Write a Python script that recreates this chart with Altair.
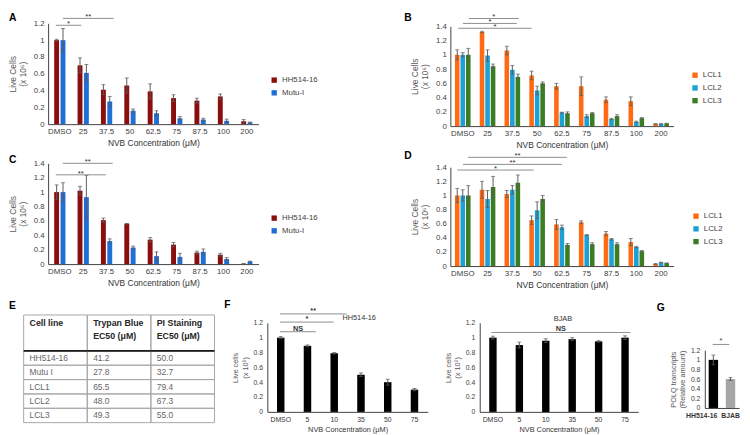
import altair as alt
import pandas as pd
import math

FONT = "Liberation Sans"
ERR = "#5a5a5a"
SIG = "#8c8c8c"
AX = "#404040"

# ---------------- data ----------------
CONC = ["DMSO", "25", "37.5", "50", "62.5", "75", "87.5", "100", "200"]

A_NAMES = ["HH514-16", "Mutu-I"]
A_HH = [1.00, 0.70, 0.41, 0.46, 0.39, 0.31, 0.28, 0.33, 0.035]
A_HH_ERR = [0.01, 0.09, 0.06, 0.09, 0.09, 0.04, 0.03, 0.03, 0.02]
A_MUTU = [1.00, 0.61, 0.27, 0.16, 0.13, 0.07, 0.055, 0.04, 0.02]
A_MUTU_ERR = [0.14, 0.10, 0.06, 0.02, 0.03, 0.02, 0.015, 0.02, 0.005]

B_NAMES = ["LCL1", "LCL2", "LCL3"]
B_LCL1 = [1.00, 1.32, 1.06, 0.71, 0.56, 0.56, 0.37, 0.35, 0.03]
B_LCL1_ERR = [0.07, 0.01, 0.06, 0.06, 0.04, 0.13, 0.04, 0.06, 0.005]
B_LCL2 = [1.00, 0.99, 0.79, 0.50, 0.19, 0.14, 0.10, 0.06, 0.03]
B_LCL2_ERR = [0.03, 0.08, 0.06, 0.06, 0.005, 0.02, 0.01, 0.01, 0.005]
B_LCL3 = [1.00, 0.84, 0.69, 0.60, 0.18, 0.18, 0.14, 0.11, 0.035]
B_LCL3_ERR = [0.09, 0.03, 0.04, 0.02, 0.02, 0.01, 0.02, 0.01, 0.005]

C_HH = [1.00, 1.02, 0.61, 0.56, 0.34, 0.27, 0.16, 0.13, 0.005]
C_HH_ERR = [0.10, 0.06, 0.03, 0.005, 0.03, 0.03, 0.02, 0.02, 0.0]
C_MUTU = [1.00, 0.93, 0.32, 0.23, 0.11, 0.10, 0.17, 0.07, 0.035]
C_MUTU_ERR = [0.13, 0.30, 0.03, 0.02, 0.06, 0.05, 0.04, 0.02, 0.005]

D_LCL1 = [1.00, 1.08, 1.02, 0.65, 0.59, 0.62, 0.46, 0.34, 0.03]
D_LCL1_ERR = [0.10, 0.12, 0.05, 0.06, 0.07, 0.02, 0.03, 0.05, 0.005]
D_LCL2 = [1.00, 0.95, 1.08, 0.79, 0.55, 0.44, 0.38, 0.27, 0.05]
D_LCL2_ERR = [0.08, 0.12, 0.06, 0.12, 0.03, 0.005, 0.01, 0.01, 0.005]
D_LCL3 = [1.00, 1.12, 1.18, 0.95, 0.30, 0.31, 0.31, 0.21, 0.04]
D_LCL3_ERR = [0.14, 0.15, 0.11, 0.05, 0.02, 0.02, 0.02, 0.01, 0.005]

A_COLORS = ["#8A0E0E", "#1F6FD6"]
B_COLORS = ["#FF6A13", "#1CA0D8", "#3A7D22"]

# significance brackets: (start, end) in category units, height, label
A_SIG = [(0.33, 1.42, 1.177, "*"), (0.63, 2.80, 1.259, "**")]
B_SIG = [(0.32, 3.28, 1.372, "*"), (0.51, 2.68, 1.44, "*"), (0.75, 2.76, 1.509, "*")]
C_SIG = [(0.33, 2.47, 1.24, "**"), (0.63, 2.76, 1.40, "**")]
D_SIG = [(0.28, 3.36, 1.36, "*"), (0.51, 4.50, 1.44, "**"), (0.71, 4.70, 1.54, "**")]

TABLE_HEAD = ["Cell line", "Trypan Blue\nEC50 (μM)", "PI Staining\nEC50 (μM)"]
CELL_LINES = ["HH514-16", "Mutu I", "LCL1", "LCL2", "LCL3"]
TRYPAN = ["41.2", "27.8", "65.5", "48.0", "49.3"]
PI_STAIN = ["50.0", "32.7", "79.4", "67.3", "55.0"]

F_CATS = ["DMSO", "5", "10", "35", "50", "75"]
F_HH = [1.00, 0.89, 0.79, 0.50, 0.40, 0.30]
F_HH_ERR = [0.015, 0.012, 0.01, 0.025, 0.04, 0.015]
F_BJAB = [1.00, 0.90, 0.96, 0.98, 0.95, 1.00]
F_BJAB_ERR = [0.02, 0.04, 0.025, 0.02, 0.01, 0.025]
F_HH_SIG = [(0.47, 1.82, 1.08, "NS"), (0.47, 2.48, 1.21, "*"), (0.47, 2.96, 1.32, "**")]
F_HH_NOTE = [(3.43, 1.27, "HH514-16")]
F_BJAB_SIG = [(0.44, 5.70, 1.07, "NS")]
F_BJAB_NOTE = [(3.15, 1.25, "BJAB")]

G_CATS = ["HH514-16", "BJAB"]
G_VALS = [1.00, 0.60]
G_ERR = [0.10, 0.03]
G_COLORS = ["#000000", "#A6A6A6"]
G_SIG = [(0.46, 1.43, 1.32, "*")]

IND = dict(x="independent", y="independent", color="independent", xOffset="independent")


def letter_title(letter, dx, dy):
    return alt.Title(letter, anchor="start", frame="group", dx=dx, dy=dy, offset=0,
                     fontSize=10.5, fontWeight="bold", font=FONT, color="#000000")


def to_band(u, cats):
    i = int(min(max(math.floor(u), 0), len(cats) - 1))
    bp = min(max(u - i, 0.0), 1.0)
    return cats[i], round(bp, 4)


def sig_charts(sig, cats, xs, ys, xaxis, yaxis, fsize=8, bold=False, dy=1, notes=None):
    out = []
    for (u1, u2, yv, lab) in sig:
        c1, b1 = to_band(u1, cats)
        c2, b2 = to_band(u2, cats)
        cm, bm = to_band((u1 + u2) / 2, cats)
        d = pd.DataFrame([dict(c1=c1, c2=c2, cm=cm, y=yv, label=lab)])
        out.append(alt.Chart(d).mark_rule(color=SIG, strokeWidth=1).encode(
            x=alt.X("c1:N", scale=xs, sort=cats, axis=xaxis, bandPosition=b1),
            x2=alt.X2("c2", bandPosition=b2),
            y=alt.Y("y:Q", scale=ys, axis=yaxis)))
        out.append(alt.Chart(d).mark_text(baseline="alphabetic", dy=dy, fontSize=fsize, font=FONT,
                                          color="#333333",
                                          fontWeight="bold" if bold else "normal").encode(
            x=alt.X("cm:N", scale=xs, sort=cats, axis=xaxis, bandPosition=bm),
            y=alt.Y("y:Q", scale=ys, axis=yaxis), text="label:N"))
    for (u, yv, lab) in (notes or []):
        c, b = to_band(u, cats)
        d = pd.DataFrame([dict(c=c, y=yv, label=lab)])
        out.append(alt.Chart(d).mark_text(baseline="middle", fontSize=fsize, font=FONT,
                                          color="#333333").encode(
            x=alt.X("c:N", scale=xs, sort=cats, axis=xaxis, bandPosition=b),
            y=alt.Y("y:Q", scale=ys, axis=yaxis), text="label:N"))
    return out


def grouped_panel(names, vals, errs, colors, ymax, width, height, yrange, off_pad_in, off_pad_out,
                  legend_x, legend_y, sig, letter, letter_dx, letter_dy):
    rows = []
    for name, vs, es in zip(names, vals, errs):
        for c, v, e in zip(CONC, vs, es):
            rows.append(dict(conc=c, series=name, value=v, lo=max(v - e, 0), hi=v + e))
    df = pd.DataFrame(rows)
    yticks = [round(0.2 * i, 1) for i in range(int(round(ymax / 0.2)) + 1)]
    ykw = dict(domain=[0, ymax], nice=False, zero=True)
    if yrange:
        ykw["range"] = yrange
    ys = alt.Scale(**ykw)
    xs = alt.Scale(domain=CONC, paddingInner=0, paddingOuter=0)
    xaxis = alt.Axis(title="NVB Concentration (μM)", labelAngle=0, labelPadding=4,
                     titlePadding=3, ticks=False, domainColor=AX, labelFontSize=8,
                     titleFontSize=8.6, labelColor="#404040", titleColor="#333333")
    yaxis = alt.Axis(title=["Live Cells", "(x 10⁶)"], values=yticks, format=".2~f",
                     ticks=False, domainColor=AX, labelPadding=4, titlePadding=6,
                     labelFontSize=8, titleFontSize=8.6, labelColor="#404040",
                     titleColor="#595959")
    xo = alt.XOffset("series:N", sort=names,
                     scale=alt.Scale(domain=names, paddingInner=off_pad_in,
                                     paddingOuter=off_pad_out))
    base = alt.Chart(df)
    bars = base.mark_bar().encode(
        x=alt.X("conc:N", sort=CONC, scale=xs, axis=xaxis),
        xOffset=xo,
        y=alt.Y("value:Q", scale=ys, axis=yaxis),
        color=alt.Color("series:N", scale=alt.Scale(domain=names, range=colors),
                        legend=alt.Legend(orient="none", legendX=legend_x, legendY=legend_y,
                                          title=None, symbolType="square", symbolSize=30,
                                          labelFontSize=8, labelColor="#404040", rowPadding=5,
                                          labelFont=FONT)))
    eb = base.mark_rule(color=ERR, strokeWidth=1).encode(
        x=alt.X("conc:N", sort=CONC, scale=xs, axis=xaxis), xOffset=xo,
        y=alt.Y("lo:Q", scale=ys, axis=yaxis), y2="hi")
    cap_hi = base.mark_tick(color=ERR, size=4, thickness=1).encode(
        x=alt.X("conc:N", sort=CONC, scale=xs, axis=xaxis), xOffset=xo,
        y=alt.Y("hi:Q", scale=ys, axis=yaxis))
    cap_lo = base.mark_tick(color=ERR, size=4, thickness=1).encode(
        x=alt.X("conc:N", sort=CONC, scale=xs, axis=xaxis), xOffset=xo,
        y=alt.Y("lo:Q", scale=ys, axis=yaxis))
    extra = sig_charts(sig, CONC, xs, ys, xaxis, yaxis)
    return alt.layer(bars, eb, cap_hi, cap_lo, *extra).properties(
        width=width, height=height, title=letter_title(letter, letter_dx, letter_dy))


def simple_panel(cats, vals, errs, colors, width, height, xrange, yrange, band, sig, notes,
                 ytitle, xtitle, letter, letter_dx, letter_dy, fs=7, xlab_bold=False,
                 label_align=None, label_offset=None, sig_bold=True):
    df = pd.DataFrame(dict(cat=cats, value=vals, lo=[max(v - e, 0) for v, e in zip(vals, errs)],
                           hi=[v + e for v, e in zip(vals, errs)]))
    ys = alt.Scale(domain=[0, 1.2], nice=False, zero=True, range=yrange)
    xkw = dict(domain=cats, paddingInner=0, paddingOuter=0)
    if xrange:
        xkw["range"] = xrange
    xs = alt.Scale(**xkw)
    xaxis_kw = dict(labelAngle=0, labelPadding=4, titlePadding=3, ticks=False,
                    domainColor=AX, labelFontSize=fs, titleFontSize=fs + 0.5,
                    labelColor="#333333", titleColor="#333333", labelOverlap=False,
                    labelFontWeight="bold" if xlab_bold else "normal", title=xtitle)
    if label_align is not None:
        xaxis_kw["labelAlign"] = label_align
    if label_offset is not None:
        xaxis_kw["labelOffset"] = label_offset
    xaxis = alt.Axis(**xaxis_kw)
    yaxis = alt.Axis(title=ytitle, values=[0, 0.2, 0.4, 0.6, 0.8, 1.0, 1.2],
                     format=".2~f", ticks=False, domainColor=AX, labelPadding=5,
                     titlePadding=4, labelFontSize=fs, titleFontSize=fs + 0.5,
                     labelColor="#404040", titleColor="#595959")
    base = alt.Chart(df)
    bars = base.mark_bar(width=alt.RelativeBandSize(band)).encode(
        x=alt.X("cat:N", sort=cats, scale=xs, axis=xaxis),
        y=alt.Y("value:Q", scale=ys, axis=yaxis),
        color=alt.Color("cat:N", scale=alt.Scale(domain=cats, range=colors), legend=None))
    eb = base.mark_rule(color=ERR, strokeWidth=1).encode(
        x=alt.X("cat:N", sort=cats, scale=xs, axis=xaxis),
        y=alt.Y("lo:Q", scale=ys, axis=yaxis), y2="hi")
    cap_hi = base.mark_tick(color=ERR, size=4, thickness=1).encode(
        x=alt.X("cat:N", sort=cats, scale=xs, axis=xaxis), y=alt.Y("hi:Q", scale=ys, axis=yaxis))
    cap_lo = base.mark_tick(color=ERR, size=4, thickness=1).encode(
        x=alt.X("cat:N", sort=cats, scale=xs, axis=xaxis), y=alt.Y("lo:Q", scale=ys, axis=yaxis))
    extra = sig_charts(sig, cats, xs, ys, xaxis, yaxis, fsize=fs + 0.5, bold=sig_bold, dy=-1,
                       notes=notes)
    props = dict(width=width, height=height)
    if letter:
        props["title"] = letter_title(letter, letter_dx, letter_dy)
    return alt.layer(bars, eb, cap_hi, cap_lo, *extra).properties(**props)


# ---------------- table E ----------------
def table_panel():
    cols = ["c1", "c2", "c3"]
    cells = []
    for c in cols:
        cells.append(dict(col=c, top=0.0, bottom=2.5))
        for i in range(len(CELL_LINES)):
            cells.append(dict(col=c, top=2.5 + i, bottom=3.5 + i))
    cdf = pd.DataFrame(cells)
    heads = pd.DataFrame(dict(col=cols, y=[0.3] * 3, label=TABLE_HEAD))
    body = []
    for i, (a, b, c) in enumerate(zip(CELL_LINES, TRYPAN, PI_STAIN)):
        for col, lab in zip(cols, [a, b, c]):
            body.append(dict(col=col, y=3.0 + i, label=lab))
    bdf = pd.DataFrame(body)
    line = pd.DataFrame(dict(col=cols, top=[2.44] * 3, bottom=[2.56] * 3))
    xs = alt.Scale(domain=cols, range=[-25, 170], paddingInner=0, paddingOuter=0)
    ys = alt.Scale(domain=[0, 7.5], range=[0, 110], nice=False, zero=False)
    rects = alt.Chart(cdf).mark_rect(fillOpacity=0, stroke="#a6a6a6", strokeWidth=1).encode(
        x=alt.X("col:N", scale=xs, axis=None), y=alt.Y("top:Q", scale=ys, axis=None), y2="bottom")
    thick = alt.Chart(line).mark_rect(fill="#1a1a1a").encode(
        x=alt.X("col:N", scale=xs, axis=None), y=alt.Y("top:Q", scale=ys, axis=None), y2="bottom")
    htext = alt.Chart(heads).mark_text(align="left", baseline="top", dx=6, lineBreak="\n",
                                       lineHeight=13, fontSize=9, fontWeight="bold", font=FONT,
                                       color="#262626").encode(
        x=alt.X("col:N", scale=xs, axis=None, bandPosition=0),
        y=alt.Y("y:Q", scale=ys, axis=None), text="label:N")
    btext = alt.Chart(bdf).mark_text(align="left", baseline="middle", dx=6, fontSize=8.6,
                                     font=FONT, color="#666666").encode(
        x=alt.X("col:N", scale=xs, axis=None, bandPosition=0),
        y=alt.Y("y:Q", scale=ys, axis=None), text="label:N")
    return alt.layer(rects, thick, htext, btext).properties(
        width=171, height=110, title=letter_title("E", -40, -3))


A = grouped_panel(A_NAMES, [A_HH, A_MUTU], [A_HH_ERR, A_MUTU_ERR], A_COLORS, 1.2, 215, 103, None,
                  0.23, 0.95, 227, 54, A_SIG, "A", -40, 10)
B = grouped_panel(B_NAMES, [B_LCL1, B_LCL2, B_LCL3], [B_LCL1_ERR, B_LCL2_ERR, B_LCL3_ERR],
                  B_COLORS, 1.4, 228, 105, [105, 3], 0.17, 0.83, 246, 49, B_SIG, "B", -47, 10)
C = grouped_panel(A_NAMES, [C_HH, C_MUTU], [C_HH_ERR, C_MUTU_ERR], A_COLORS, 1.4, 215, 103, None,
                  0.23, 0.95, 227, 52, C_SIG, "C", -40, 7)
D = grouped_panel(B_NAMES, [D_LCL1, D_LCL2, D_LCL3], [D_LCL1_ERR, D_LCL2_ERR, D_LCL3_ERR],
                  B_COLORS, 1.4, 228, 105, [105, 4], 0.17, 0.83, 247, 50, D_SIG, "D", -47, 9)
E = table_panel()
F1 = simple_panel(F_CATS, F_HH, F_HH_ERR, ["#000000"] * 6, 164, 99, None, [99, 8], 0.28,
                  F_HH_SIG, F_HH_NOTE, ["Live cells", "(x 10⁶)"], "NVB Concentration (μM)",
                  "F", -44, 3)
F2 = simple_panel(F_CATS, F_BJAB, F_BJAB_ERR, ["#000000"] * 6, 177, 99, [0, 162], [99, 8], 0.28,
                  F_BJAB_SIG, F_BJAB_NOTE, ["Live cells", "(x 10⁶)"], "NVB Concentration (μM)",
                  None, 0, 0)
G = simple_panel(G_CATS, G_VALS, G_ERR, G_COLORS, 35, 95, None, [95, 36], 0.55, G_SIG, None,
                 ["POLQ transcripts", "(Relative amount)"], None, "G", -49, -2, fs=7,
                 xlab_bold=True, sig_bold=False,
                 label_align={"condition": {"test": "datum.value === 'HH514-16'", "value": "right"},
                              "value": "center"},
                 label_offset={"condition": {"test": "datum.value === 'HH514-16'", "value": 4},
                               "value": 0})

row1 = alt.hconcat(A, B, spacing=196, bounds="flush").resolve_scale(**IND)
row2 = alt.hconcat(C, D, spacing=196, bounds="flush").resolve_scale(**IND)
row3 = alt.hconcat(E, F1, F2, G, spacing=53, bounds="flush").resolve_scale(**IND)

top = alt.vconcat(row1, row2, spacing=1).resolve_scale(**IND)

chart = alt.vconcat(top, row3, spacing=10).resolve_scale(**IND).properties(
    padding={"left": 0, "top": 0, "right": 2, "bottom": 0}
).configure(font=FONT).configure_view(strokeWidth=0).configure_axis(
    grid=False, labelFont=FONT, titleFont=FONT, titleFontWeight="normal", domainWidth=1
).configure_legend(labelFont=FONT)

chart.save("out.html", embed_options={"renderer": "svg", "actions": False})
